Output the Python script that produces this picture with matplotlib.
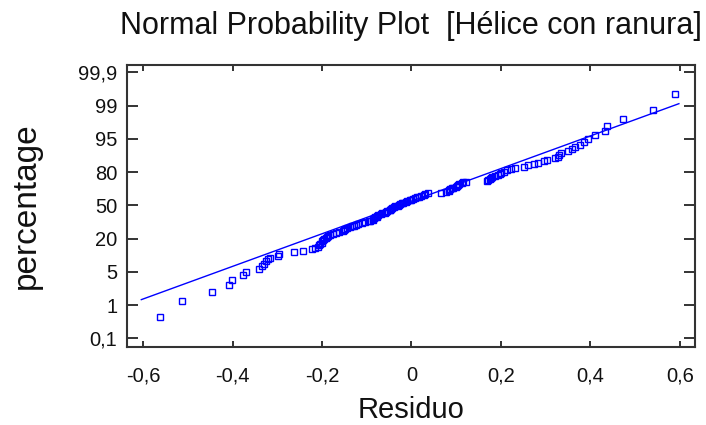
import math
import numpy as np
import matplotlib
matplotlib.use("Agg")
import matplotlib.pyplot as plt

# Sorted residuals (one per observation)
residuals = [
    -0.562, -0.512, -0.446, -0.408, -0.402, -0.377, -0.369, -0.340, -0.334, -0.329,
    -0.325, -0.320, -0.316, -0.298, -0.296, -0.263, -0.243, -0.222, -0.215, -0.208,
    -0.206, -0.204, -0.201, -0.199, -0.197, -0.195, -0.190, -0.188, -0.186, -0.181,
    -0.175, -0.168, -0.161, -0.154, -0.150, -0.148, -0.143, -0.137, -0.132, -0.128,
    -0.123, -0.119, -0.110, -0.103, -0.096, -0.092, -0.087, -0.085, -0.083, -0.081,
    -0.078, -0.076, -0.074, -0.069, -0.065, -0.060, -0.056, -0.054, -0.049, -0.047,
    -0.045, -0.043, -0.040, -0.036, -0.031, -0.027, -0.025, -0.022, -0.018, -0.013,
    -0.009, -0.004, 0.000, 0.004, 0.009, 0.013, 0.018, 0.022, 0.027, 0.031,
    0.036, 0.065, 0.078, 0.083, 0.085, 0.087, 0.090, 0.094, 0.099, 0.101,
    0.103, 0.107, 0.112, 0.116, 0.121, 0.168, 0.172, 0.175, 0.177, 0.181,
    0.186, 0.193, 0.197, 0.201, 0.206, 0.213, 0.222, 0.231, 0.251, 0.260,
    0.273, 0.284, 0.296, 0.304, 0.322, 0.327, 0.329, 0.334, 0.349, 0.358,
    0.365, 0.376, 0.385, 0.394, 0.410, 0.432, 0.437, 0.472, 0.539, 0.589,
]

# Reference line (residual, cumulative percentage) at its two ends
fit_x = [-0.604, 0.598]
fit_pct = [1.34, 99.11]

pct_ticks = [0.1, 1, 5, 20, 50, 80, 95, 99, 99.9]
pct_labels = ["0,1", "1", "5", "20", "50", "80", "95", "99", "99,9"]
x_ticks = [-0.6, -0.4, -0.2, 0.0, 0.2, 0.4, 0.6]
x_labels = ["-0,6", "-0,4", "-0,2", "0", "0,2", "0,4", "0,6"]


def norm_ppf(p):
    p = np.clip(np.asarray(p, dtype=float), 1e-12, 1 - 1e-12)
    a = [-3.969683028665376e+01, 2.209460984245205e+02, -2.759285104469687e+02,
         1.383577518672690e+02, -3.066479806614716e+01, 2.506628277459239e+00]
    b = [-5.447609879822406e+01, 1.615858368580409e+02, -1.556989798598866e+02,
         6.680131188771972e+01, -1.328068155288572e+01]
    c = [-7.784894002430293e-03, -3.223964580411365e-01, -2.400758277161838e+00,
         -2.549671039326081e+00, 4.374664141464968e+00, 2.938163982698783e+00]
    d = [7.784695709041462e-03, 3.224671290700398e-01, 2.445134137142996e+00,
         3.754408661907416e+00]
    plow = 0.02425
    out = np.empty_like(p)
    lo = p < plow
    hi = p > 1 - plow
    mid = ~(lo | hi)
    q = np.sqrt(-2 * np.log(p[lo]))
    out[lo] = (((((c[0]*q + c[1])*q + c[2])*q + c[3])*q + c[4])*q + c[5]) / \
              ((((d[0]*q + d[1])*q + d[2])*q + d[3])*q + 1)
    q = p[mid] - 0.5
    r = q * q
    out[mid] = (((((a[0]*r + a[1])*r + a[2])*r + a[3])*r + a[4])*r + a[5]) * q / \
               (((((b[0]*r + b[1])*r + b[2])*r + b[3])*r + b[4])*r + 1)
    q = np.sqrt(-2 * np.log(1 - p[hi]))
    out[hi] = -(((((c[0]*q + c[1])*q + c[2])*q + c[3])*q + c[4])*q + c[5]) / \
               ((((d[0]*q + d[1])*q + d[2])*q + d[3])*q + 1)
    return out


_erf = np.vectorize(math.erf)


def norm_cdf(z):
    return 0.5 * (1 + _erf(np.asarray(z, dtype=float) / math.sqrt(2)))


def interp_ext(x, xp, fp):
    x = np.asarray(x, dtype=float)
    y = np.interp(x, xp, fp)
    s0 = (fp[1] - fp[0]) / (xp[1] - xp[0])
    s1 = (fp[-1] - fp[-2]) / (xp[-1] - xp[-2])
    y = np.where(x < xp[0], fp[0] + (x - xp[0]) * s0, y)
    y = np.where(x > xp[-1], fp[-1] + (x - xp[-1]) * s1, y)
    return y


# Percentage labels sit at evenly spaced positions; normal scores are
# interpolated linearly between them.
tick_z = norm_ppf(np.array(pct_ticks) / 100.0)
tick_pos = np.arange(len(pct_ticks), dtype=float) - (len(pct_ticks) - 1) / 2


def pct_to_pos(pct):
    return interp_ext(norm_ppf(np.asarray(pct, dtype=float) / 100.0), tick_z, tick_pos)


def pos_to_pct(pos):
    return 100.0 * norm_cdf(interp_ext(pos, tick_pos, tick_z))


n = len(residuals)
ranks = np.arange(1, n + 1)
plot_pct = 100.0 * (ranks - 0.375) / (n + 0.25)

plt.rcParams['font.family'] = ['Liberation Sans', 'DejaVu Sans']

W, H = 706, 425
fig = plt.figure(figsize=(W / 100, H / 100), dpi=100)
L, R, T, B = 127, 695, 65, 347
ax = fig.add_axes([L / W, 1 - B / H, (R - L) / W, (B - T) / H])
ax.set_yscale('function', functions=(pct_to_pos, pos_to_pct))

blue = '#0000ff'
ax.plot(fit_x, fit_pct, color=blue, lw=1.0, zorder=2)
ax.plot(residuals, plot_pct, linestyle='none', marker='s', ms=4.2,
        mfc='none', mec=blue, mew=1.0, zorder=3)

ax.set_xlim(-0.636, 0.634)
ax.set_ylim(pos_to_pct(-4.26), pos_to_pct(4.22))

ax.set_xticks(x_ticks)
ax.set_xticklabels(x_labels)
ax.set_yticks(pct_ticks)
ax.set_yticklabels(pct_labels)
ax.minorticks_off()

spine_c = '#333333'
for s in ax.spines.values():
    s.set_color(spine_c)
    s.set_linewidth(1.5)

ax.tick_params(axis='y', which='major', direction='in', left=True, right=True,
               length=8, width=1.4, color=spine_c, pad=7, labelsize=14.5,
               labelcolor='#111111')
ax.tick_params(axis='x', which='major', direction='in', top=True, bottom=True,
               length=4.5, width=1.4, color=spine_c, pad=14, labelsize=14.5,
               labelcolor='#111111')

ax.set_title('Normal Probability Plot  [Hélice con ranura]', fontsize=22,
             pad=22, color='#111111')
ax.set_xlabel('Residuo', fontsize=21, color='#111111')
ax.set_ylabel('percentage', fontsize=24, color='#111111')
ax.xaxis.set_label_coords(0.5, -0.174)
ax.yaxis.set_label_coords(-0.150, 0.5)

fig.savefig('out.png', dpi=100)
